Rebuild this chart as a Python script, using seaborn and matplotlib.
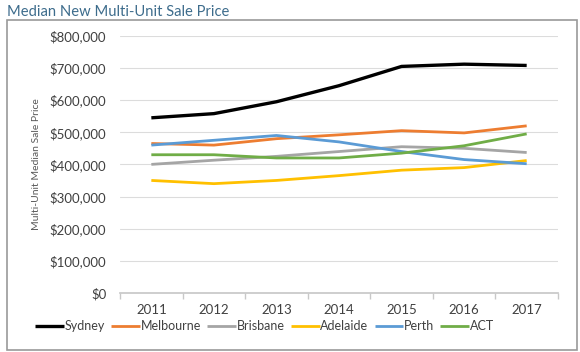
import pandas as pd
import numpy as np
import matplotlib.pyplot as plt
import seaborn as sns
from matplotlib.patches import Rectangle
from matplotlib.ticker import FuncFormatter

sns.set_theme(style='white')
plt.rcParams['font.family'] = ['Lato', 'DejaVu Sans']

years = [2011, 2012, 2013, 2014, 2015, 2016, 2017]
sydney = [545000, 558000, 595000, 645000, 705000, 712000, 708000]
melbourne = [465000, 460000, 480000, 492000, 505000, 498000, 520000]
brisbane = [400000, 413000, 425000, 440000, 455000, 450000, 437000]
adelaide = [350000, 340000, 350000, 365000, 382000, 390000, 412000]
perth = [460000, 475000, 490000, 470000, 440000, 415000, 402000]
act = [430000, 430000, 420000, 420000, 435000, 458000, 495000]

cities = ['Sydney', 'Melbourne', 'Brisbane', 'Adelaide', 'Perth', 'ACT']
colors = ['#000000', '#ED7D31', '#A5A5A5', '#FFC000', '#5B9BD5', '#70AD47']
widths = [2.4, 2.0, 2.0, 2.0, 2.0, 2.0]

df = pd.DataFrame({'year': years, 'Sydney': sydney, 'Melbourne': melbourne,
                   'Brisbane': brisbane, 'Adelaide': adelaide, 'Perth': perth, 'ACT': act})
long = df.melt(id_vars='year', var_name='city', value_name='price')

fig = plt.figure(figsize=(5.8, 3.52), dpi=100)
ax = fig.add_axes([0.207, 0.168, 0.755, 0.730])

# outer frame box
fig.patches.append(Rectangle((0.012, 0.006), 0.983, 0.937, transform=fig.transFigure,
                             fill=False, edgecolor='#9a9a9a', linewidth=1.2))
fig.text(0.012, 0.965, 'Median New Multi-Unit Sale Price', fontsize=10.6,
         color='#3D6C8C', ha='left', va='center')

sns.lineplot(data=long, x='year', y='price', hue='city', hue_order=cities,
             palette=dict(zip(cities, colors)), ax=ax, legend=False)
for line, w in zip(ax.get_lines(), widths):
    line.set_linewidth(w)
    line.set_solid_joinstyle('round')
    line.set_solid_capstyle('butt')

ax.set_xlim(2010.5, 2017.5)
ax.set_ylim(0, 800000)
ax.set_yticks(np.arange(0, 800001, 100000))
ax.yaxis.set_major_formatter(FuncFormatter(lambda v, p: f'${v:,.0f}'))
ax.set_xticks(years)
ax.set_xticks(np.arange(2010.5, 2018, 1), minor=True)
ax.tick_params(axis='x', which='major', length=0, pad=8, labelsize=9.5, labelcolor='#404040')
ax.tick_params(axis='x', which='minor', length=4, color='#c8c8c8', direction='out', bottom=True)
ax.tick_params(axis='y', length=0, pad=10, labelsize=9.5, labelcolor='#404040')
ax.grid(axis='y', color='#dcdcdc', linewidth=0.8)
ax.grid(axis='x', visible=False)
for side in ['top', 'right', 'left']:
    ax.spines[side].set_visible(False)
ax.spines['bottom'].set_color('#c8c8c8')
ax.set_xlabel('')
ax.set_ylabel('Multi-Unit Median Sale Price', fontsize=7.5, color='#595959', labelpad=6)

handles = ax.get_lines()[:6]
ax.legend(handles, cities, loc='center', bbox_to_anchor=(0.33, -0.13), ncol=6,
          frameon=False, fontsize=9, handlelength=2.3, handletextpad=0.05,
          columnspacing=0.5, labelcolor='#404040', borderpad=0, borderaxespad=0)

fig.savefig('out.png', dpi=100)
